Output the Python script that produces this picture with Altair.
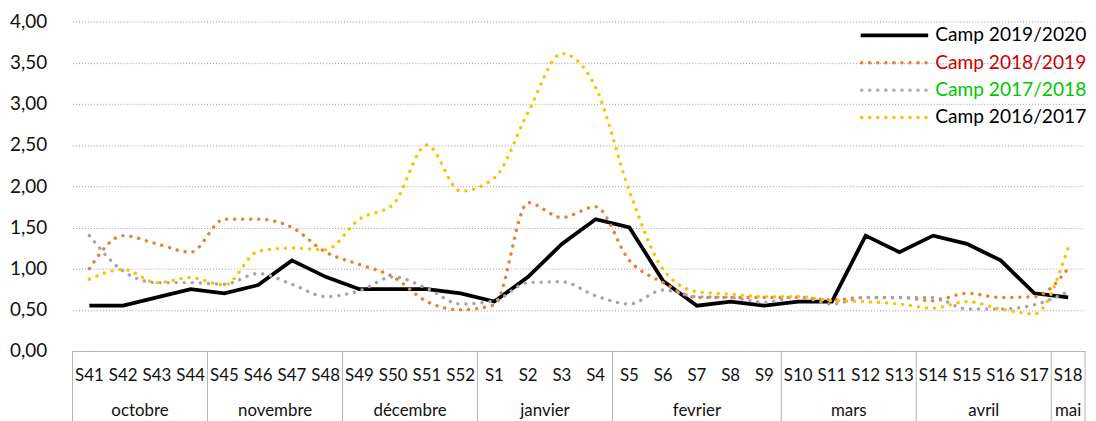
import altair as alt
import pandas as pd

# ---- data ----
weeks = ["S41", "S42", "S43", "S44", "S45", "S46", "S47", "S48", "S49", "S50", "S51", "S52",
         "S1", "S2", "S3", "S4", "S5", "S6", "S7", "S8", "S9", "S10", "S11", "S12", "S13",
         "S14", "S15", "S16", "S17", "S18"]
months = ["octobre", "novembre", "décembre", "janvier", "fevrier", "mars", "avril", "mai"]
month_len = [4, 4, 4, 4, 5, 4, 4, 1]

series_names = ["Camp 2019/2020", "Camp 2018/2019", "Camp 2017/2018", "Camp 2016/2017"]
series_colors = ["#000000", "#ED7D31", "#A5A5A5", "#FFC000"]
legend_text_colors = ["#000000", "#cc0000", "#00c800", "#000000"]

camp_2019_2020 = [0.55, 0.55, 0.65, 0.75, 0.70, 0.80, 1.10, 0.90, 0.75, 0.75, 0.75, 0.70,
                  0.60, 0.90, 1.30, 1.60, 1.50, 0.85, 0.55, 0.60, 0.55, 0.60, 0.60, 1.40, 1.20,
                  1.40, 1.30, 1.10, 0.70, 0.65]
camp_2018_2019 = [1.00, 1.40, 1.30, 1.20, 1.60, 1.60, 1.50, 1.20, 1.05, 0.90, 0.60, 0.50,
                  0.56, 1.80, 1.62, 1.75, 1.10, 0.83, 0.65, 0.65, 0.65, 0.65, 0.62, 0.65, 0.65,
                  0.61, 0.70, 0.65, 0.66, 1.00]
camp_2017_2018 = [1.40, 0.97, 0.83, 0.83, 0.81, 0.94, 0.81, 0.66, 0.73, 0.90, 0.76, 0.57,
                  0.61, 0.83, 0.84, 0.67, 0.57, 0.74, 0.66, 0.65, 0.59, 0.66, 0.57, 0.65, 0.65,
                  0.65, 0.51, 0.51, 0.56, 0.72]
camp_2016_2017 = [0.87, 0.99, 0.83, 0.89, 0.80, 1.21, 1.25, 1.23, 1.60, 1.78, 2.50, 1.94,
                  2.10, 2.90, 3.61, 3.20, 1.94, 0.99, 0.72, 0.69, 0.66, 0.66, 0.61, 0.60, 0.57,
                  0.52, 0.60, 0.51, 0.45, 1.25]
y_ticks = [0, 0.5, 1, 1.5, 2, 2.5, 3, 3.5, 4]

# ---- tables ----
values = [camp_2019_2020, camp_2018_2019, camp_2017_2018, camp_2016_2017]
rows = []
for name, vals in zip(series_names, values):
    for i, (w, v) in enumerate(zip(weeks, vals)):
        rows.append({"idx": i, "week": w, "series": name, "value": v})
df = pd.DataFrame(rows)
week_df = pd.DataFrame({"idx": list(range(len(weeks))), "week": weeks})

starts = []
s = 0
for n in month_len:
    starts.append(s)
    s += n
month_df = pd.DataFrame({
    "month": months,
    "idx": [st + (n - 1) / 2 for st, n in zip(starts, month_len)],
})
sep_df = pd.DataFrame({"idx": [st - 0.5 for st in starts] + [len(weeks) - 0.5]})
legend_df = pd.DataFrame({
    "series": series_names,
    "row": list(range(len(series_names))),
    "tcolor": legend_text_colors,
})

W, H = 1020, 332
FONT = "Lato"

x_scale = alt.Scale(domain=[-0.5, len(weeks) - 0.5], nice=False, zero=False)
y_scale = alt.Scale(domain=[0, 4], nice=False)
color_scale = alt.Scale(domain=series_names, range=series_colors)

x_axis = alt.Axis(title=None, grid=False, ticks=False, labels=False,
                  domainColor="#b4b4b4", domainWidth=1)
y_axis = alt.Axis(values=y_ticks, title=None, domain=False, ticks=False, tickSize=0,
                  grid=True, gridColor="#9a9a9a", gridDash=[1, 2], gridWidth=1,
                  labelExpr="replace(format(datum.value, '.2f'), '.', ',')",
                  labelFontSize=19, labelFont=FONT, labelColor="#111111",
                  labelPadding=26, labelAlign="right")

x_enc = alt.X("idx:Q", scale=x_scale, axis=x_axis)
y_enc = alt.Y("value:Q", scale=y_scale, axis=y_axis)
color_enc = alt.Color("series:N", scale=color_scale, legend=None)

black_line = alt.Chart(df).transform_filter(
    alt.datum.series == series_names[0]
).mark_line(strokeWidth=3.8).encode(x=x_enc, y=y_enc, color=color_enc)

dotted_lines = alt.Chart(df).transform_filter(
    alt.datum.series != series_names[0]
).mark_line(interpolate="monotone", strokeDash=[0.1, 8], strokeCap="round",
            strokeWidth=3.4).encode(x=x_enc, y=y_enc, color=color_enc)

separators = alt.Chart(sep_df).mark_rule(color="#b4b4b4", strokeWidth=1).encode(
    x=x_enc,
    y=alt.value(H),
    y2=alt.value(H + 75),
)

week_labels = alt.Chart(week_df).mark_text(
    fontSize=17, font=FONT, color="#111111", baseline="middle", align="center"
).encode(
    x=x_enc,
    y=alt.value(H + 25),
    text="week:N",
)

month_labels = alt.Chart(month_df).mark_text(
    fontSize=17, font=FONT, color="#111111", baseline="middle", align="center"
).encode(
    x=x_enc,
    y=alt.value(H + 60),
    text="month:N",
)

leg_base = alt.Chart(legend_df).transform_calculate(ly="14 + 27.6 * datum.row")
leg_black = leg_base.transform_filter(alt.datum.row == 0).mark_rule(
    strokeWidth=3.8
).encode(
    x=alt.value(794), x2=alt.value(862),
    y=alt.Y("ly:Q", scale=None),
    color=color_enc,
)
leg_dotted = leg_base.transform_filter(alt.datum.row > 0).mark_rule(
    strokeWidth=3.4, strokeDash=[0.1, 8], strokeCap="round"
).encode(
    x=alt.value(795), x2=alt.value(863),
    y=alt.Y("ly:Q", scale=None),
    color=color_enc,
)
leg_text = leg_base.mark_text(
    fontSize=19.3, font=FONT, align="left", baseline="middle"
).encode(
    x=alt.value(869),
    y=alt.Y("ly:Q", scale=None),
    text="series:N",
    fill=alt.Fill("tcolor:N", scale=None),
)

chart = alt.layer(
    black_line, dotted_lines, separators, week_labels, month_labels,
    leg_black, leg_dotted, leg_text
).properties(
    width=W, height=H,
    autosize=alt.AutoSizeParams(type="none"),
    padding={"left": 65, "top": 12, "right": 3, "bottom": 72},
).configure(font=FONT).configure_view(stroke=None)

chart.save("out.html", embed_options={"renderer": "svg", "actions": False})
